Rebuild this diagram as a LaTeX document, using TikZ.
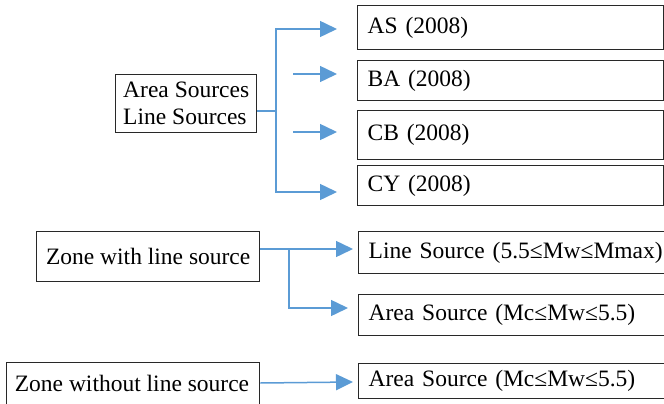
\documentclass[tikz,border=0pt]{standalone}
\usepackage{fontspec}
\setmainfont{Liberation Serif}
\usetikzlibrary{arrows.meta}
\definecolor{conncol}{RGB}{91,155,213}
\definecolor{boxcol}{RGB}{40,40,40}
\begin{document}
\begin{tikzpicture}[x=1pt,y=-1pt,
  every node/.style={font=\fontsize{23.5}{27}\selectfont},
  lbox/.style={draw=boxcol,line width=1.4pt,anchor=north west,inner sep=0pt,align=center},
  rbox/.style={draw=boxcol,line width=1.4pt,anchor=north west,inner xsep=10pt,inner ysep=0pt,text width=286pt,align=left},
  conn/.style={draw=conncol,line width=1.5pt},
  tip/.style={-{Triangle[length=17pt,width=16pt]}}
]
\clip (0,0) rectangle (664,404);
% left boxes
\node[lbox,minimum width=141pt,minimum height=58pt,align=left] (src) at (115,74) {Area Sources\\Line Sources};
\node[lbox,minimum width=223pt,minimum height=50pt] (zwith) at (36,231) {Zone with line source};
\node[lbox,minimum width=253pt,minimum height=48pt,anchor=north west] (zwo) at (6,362) {};
\node (zwot) at (132,383) {Zone without line source};
% right boxes
\node[rbox,minimum height=44pt] (as) at (357,5) {AS (2008)};
\node[rbox,minimum height=40pt] (ba) at (357,60) {BA (2008)};
\node[rbox,minimum height=49pt] (cb) at (357,110) {CB (2008)};
\node[rbox,minimum height=40pt] (cy) at (357,165) {CY (2008)};
\node[rbox,minimum height=42pt] (ls) at (358,231) {\mbox{Line Source (5.5≤Mw≤Mmax)}};
\node[rbox,minimum height=41pt] (as1) at (358,294) {\mbox{Area Source (Mc≤Mw≤5.5)}};
\node[rbox,minimum height=35pt] (as2) at (358,363) {\mbox{Area Source (Mc≤Mw≤5.5)}};
% coordinates
\coordinate (j1) at (276,111);
\coordinate (tA) at (337,29);
\coordinate (sB) at (293,74);
\coordinate (tB) at (337,74);
\coordinate (sC) at (293,132);
\coordinate (tC) at (337,132);
\coordinate (tD) at (337,192);
\coordinate (j2) at (289,249);
\coordinate (tL) at (353,249);
\coordinate (tM) at (348,308);
\coordinate (sN) at (259,383);
\coordinate (tN) at (353,382);
% connectors
\draw[conn] (src.east|-j1) -- (j1);
\draw[conn,tip] (j1) |- (tA);
\draw[conn,tip] (j1) |- (tD);
\draw[conn,tip] (sB) -- (tB);
\draw[conn,tip] (sC) -- (tC);
\draw[conn,tip] (zwith.east|-j2) -- (tL);
\draw[conn,tip] (j2) |- (tM);
\draw[conn,tip] (zwo.east|-sN) -- (tN);
\end{tikzpicture}
\end{document}
